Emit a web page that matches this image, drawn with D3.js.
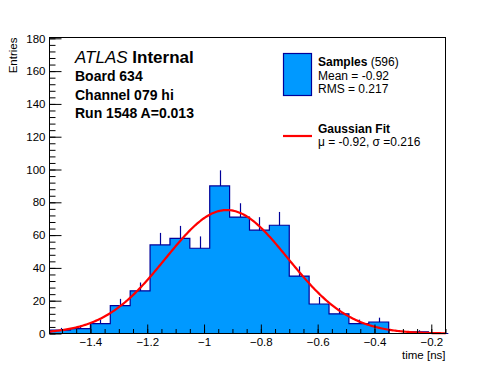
<!DOCTYPE html>
<html>
<head>
<meta charset="utf-8">
<title>Board 634 Channel 079 hi timing</title>
<script src="https://d3js.org/d3.v7.min.js"></script>
<style>
  body { margin: 0; background: #fff; }
  text { font-family: "Liberation Sans", Arial, Helvetica, sans-serif; fill: #000; }
</style>
</head>
<body>
<script>
// histogram bins (time in ns) and counts per bin
var binEdges = [-1.54, -1.47, -1.40, -1.33, -1.26, -1.19, -1.12, -1.05, -0.98, -0.91, -0.84,
                -0.77, -0.70, -0.63, -0.56, -0.49, -0.42, -0.35, -0.28, -0.21, -0.14];
var counts = [2, 3, 6, 17, 26, 54, 58, 52, 90, 71, 63, 66, 35, 18, 12, 6, 7, 0, 1, 0];
var totalEntries = 596;

// gaussian fit parameters
var fitMu = -0.92, fitSigma = 0.216, fitAmp = 75.3;

// axis tick labels
var xTicks = [-1.4, -1.2, -1, -0.8, -0.6, -0.4, -0.2];
var yTicks = [0, 20, 40, 60, 80, 100, 120, 140, 160, 180];

// text
var infoLines = ["Board 634", "Channel 079 hi", "Run 1548 A=0.013"];
var legendSamples = ["Mean = -0.92", "RMS = 0.217"];

var W = 496, H = 372;
var svg = d3.select("body").append("svg").attr("width", W).attr("height", H);

var x = d3.scaleLinear().domain([-1.544, -0.15]).range([49.5, 445.5]);
var y = d3.scaleLinear().domain([0, 180.5]).range([333.5, 37.5]);

var navy = "#000099", blue = "#0099ff";

// histogram: error bars first, bars drawn over them
var bins = counts.map(function(c, i) { return {lo: binEdges[i], hi: binEdges[i + 1], n: c}; });

svg.append("g").selectAll("line").data(bins.filter(function(d) { return d.n > 0; }))
  .enter().append("line")
  .attr("x1", function(d) { return Math.round(x((d.lo + d.hi) / 2)) + 0.5; })
  .attr("x2", function(d) { return Math.round(x((d.lo + d.hi) / 2)) + 0.5; })
  .attr("y1", function(d) { return y(d.n - Math.sqrt(d.n)); })
  .attr("y2", function(d) { return y(d.n + Math.sqrt(d.n)); })
  .attr("stroke", navy).attr("stroke-width", 1.2);

var stepPts = [[binEdges[0], 0]];
bins.forEach(function(d) { stepPts.push([d.lo, d.n]); stepPts.push([d.hi, d.n]); });
stepPts.push([binEdges[binEdges.length - 1], 0]);

var stepLine = d3.line().x(function(d) { return x(d[0]); }).y(function(d) { return y(d[1]); });
svg.append("path").attr("d", stepLine(stepPts) + "Z")
  .attr("fill", blue).attr("stroke", navy).attr("stroke-width", 1.2);

// fit curve
var fitPts = d3.range(0, 301).map(function(i) {
  var t = x.domain()[0] + (x.domain()[1] - x.domain()[0]) * i / 300;
  return [t, fitAmp * Math.exp(-(t - fitMu) * (t - fitMu) / (2 * fitSigma * fitSigma))];
});
svg.append("path").attr("d", stepLine(fitPts))
  .attr("fill", "none").attr("stroke", "#ff0000").attr("stroke-width", 2.2);

// axes, ticks pointing inward
var fmt = d3.format("~g");
var xMinor = d3.range(-30, -2).map(function(k) { return k * 0.05; });
var yMinor = d3.range(0, 46).map(function(k) { return k * 4; });

function styleAxis(g) {
  g.select(".domain").remove();
  g.attr("font-size", 11.5).attr("font-family", null);
  g.selectAll("line").attr("stroke", "#000");
}

svg.append("g").attr("transform", "translate(0," + y(0) + ")")
  .call(d3.axisBottom(x).tickValues(xMinor).tickFormat("").tickSize(-4.5)).call(styleAxis);
svg.append("g").attr("transform", "translate(0," + y(0) + ")")
  .call(d3.axisBottom(x).tickValues(xTicks).tickFormat(fmt).tickSize(-9).tickPadding(4)).call(styleAxis);
svg.append("g").attr("transform", "translate(" + x.range()[0] + ",0)")
  .call(d3.axisLeft(y).tickValues(yMinor).tickFormat("").tickSize(-6)).call(styleAxis);
svg.append("g").attr("transform", "translate(" + x.range()[0] + ",0)")
  .call(d3.axisLeft(y).tickValues(yTicks).tickFormat(d3.format("d")).tickSize(-12).tickPadding(4)).call(styleAxis);

// frame
svg.append("rect")
  .attr("x", x.range()[0]).attr("y", y.range()[1])
  .attr("width", x.range()[1] - x.range()[0]).attr("height", y.range()[0] - y.range()[1])
  .attr("fill", "none").attr("stroke", "#000").attr("stroke-width", 1);

// axis titles
svg.append("text").attr("x", x.range()[1]).attr("y", 359)
  .attr("text-anchor", "end").attr("font-size", 11.5).text("time [ns]");
svg.append("text").attr("transform", "translate(17," + y.range()[1] + ") rotate(-90)")
  .attr("text-anchor", "end").attr("font-size", 11.5).text("Entries");

// ATLAS label
var atlas = svg.append("text").attr("x", 75).attr("y", 63).attr("font-size", 17);
atlas.append("tspan").attr("font-style", "italic").text("ATLAS");
atlas.append("tspan").attr("font-weight", "bold").text(" Internal");

svg.append("g").selectAll("text").data(infoLines).enter().append("text")
  .attr("x", 75).attr("y", function(d, i) { return 81 + i * 18.5; })
  .attr("font-size", 14).attr("font-weight", "bold").text(function(d) { return d; });

// legend
var leg = svg.append("g");
leg.append("rect").attr("x", 283.5).attr("y", 53.5).attr("width", 28).attr("height", 42)
  .attr("fill", blue).attr("stroke", navy).attr("stroke-width", 1.2);
var s = leg.append("text").attr("x", 318).attr("y", 66).attr("font-size", 12);
s.append("tspan").attr("font-weight", "bold").text("Samples");
s.append("tspan").text(" (" + totalEntries + ")");
leg.selectAll(".ls").data(legendSamples).enter().append("text").attr("class", "ls")
  .attr("x", 318).attr("y", function(d, i) { return 79.5 + i * 13.5; })
  .attr("font-size", 12).text(function(d) { return d; });

leg.append("line").attr("x1", 283).attr("x2", 312).attr("y1", 136).attr("y2", 136)
  .attr("stroke", "#ff0000").attr("stroke-width", 2.2);
leg.append("text").attr("x", 318).attr("y", 133).attr("font-size", 12)
  .attr("font-weight", "bold").text("Gaussian Fit");
leg.append("text").attr("x", 318).attr("y", 146).attr("font-size", 12)
  .text("\u03bc = -0.92, \u03c3 =0.216");
</script>
</body>
</html>
